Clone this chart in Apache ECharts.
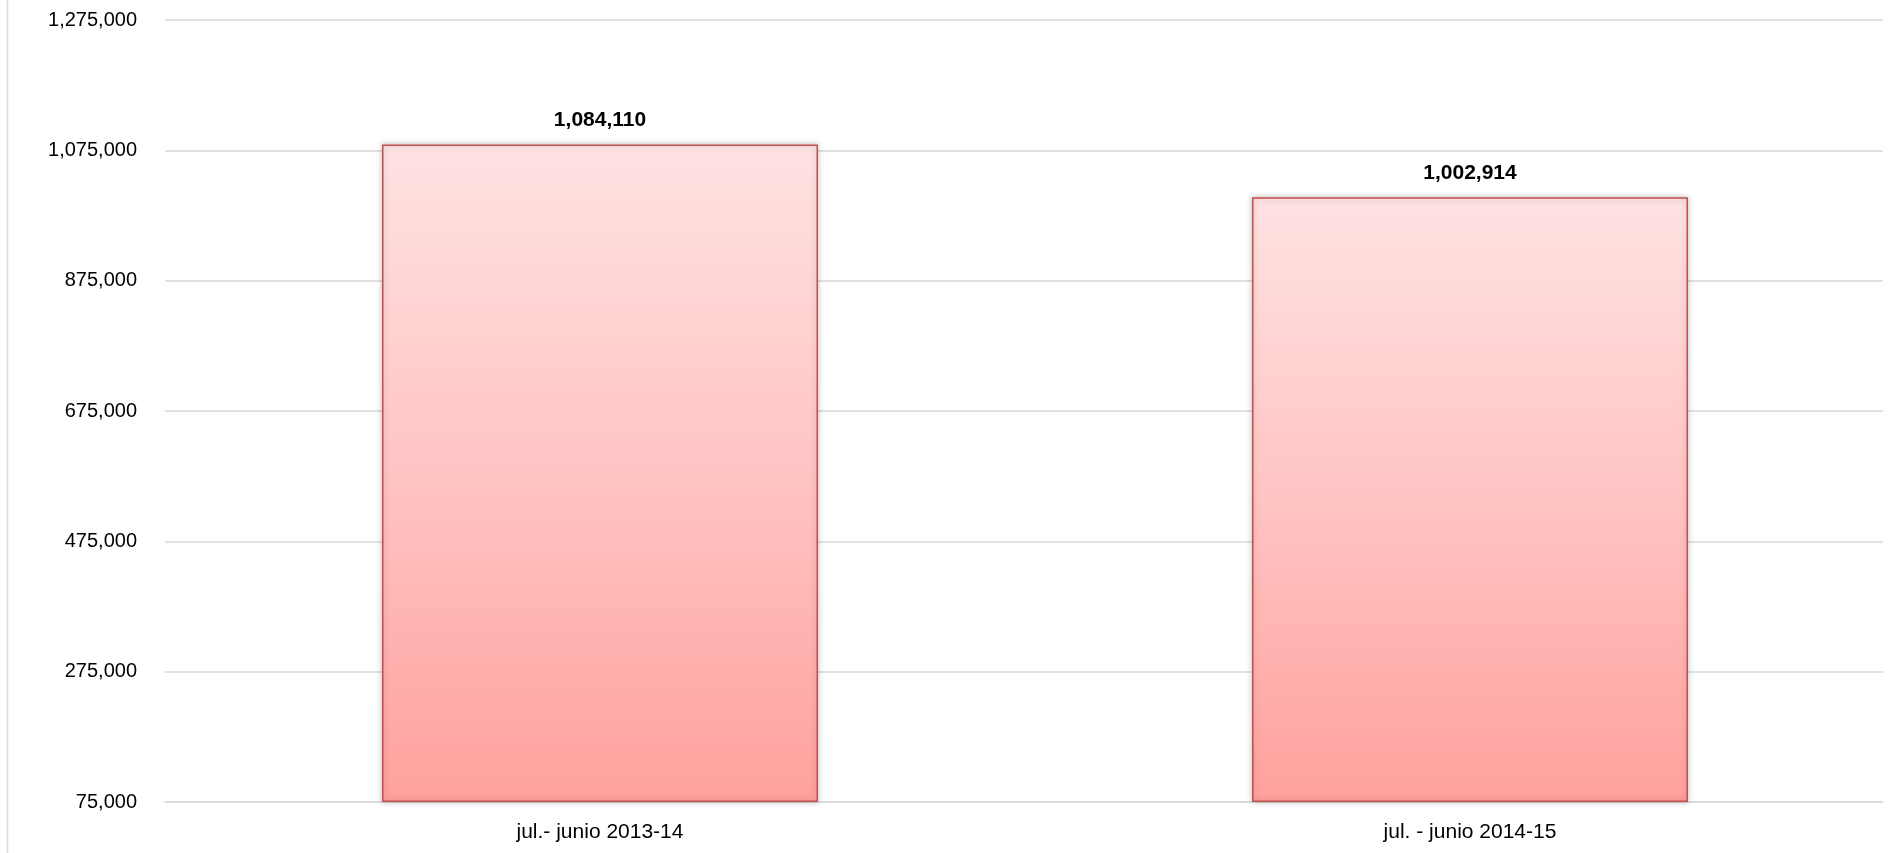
<!DOCTYPE html>
<html>
<head>
<meta charset="utf-8">
<script src="https://cdn.jsdelivr.net/npm/echarts@6/dist/echarts.min.js"></script>
<style>
html,body{margin:0;padding:0;background:#fff;overflow:hidden;width:1888px;height:853px;}
#chart{width:1905px;height:853px;}
</style>
</head>
<body>
<div id="chart"></div>
<script>
// ---- data ----
const categories = ['jul.- junio 2013-14', 'jul. - junio 2014-15'];
const values = [1084110, 1002914];
const axisBase = 75000;      // value at the bottom of the axis
const axisTop = 1275000;     // value at the top of the axis
const axisStep = 200000;     // tick step

const fmt = v => Math.round(v).toLocaleString('en-US');

const chart = echarts.init(document.getElementById('chart'));
chart.setOption({
  backgroundColor: '#ffffff',
  animation: false,
  textStyle: { fontFamily: 'Liberation Sans' },
  grid: { left: 165, right: 0, top: 20, bottom: 51, containLabel: false },
  graphic: [{
    type: 'line',
    shape: { x1: 7.5, y1: 0, x2: 7.5, y2: 853 },
    style: { stroke: '#d9d9d9', lineWidth: 1.5 }
  }, {
    type: 'rect',
    z: 100,
    shape: { x: 1883, y: 0, width: 30, height: 853 },
    style: { fill: '#ffffff' }
  }],
  xAxis: {
    type: 'category',
    data: categories,
    axisLine: { show: true, lineStyle: { color: '#d9d9d9', width: 1.5 } },
    axisTick: { show: false },
    axisLabel: { color: '#000', fontSize: 21, margin: 20, fontFamily: 'Liberation Sans' }
  },
  yAxis: {
    type: 'value',
    min: 0,
    max: axisTop - axisBase,
    interval: axisStep,
    axisLine: { show: false },
    axisTick: { show: false },
    splitLine: { lineStyle: { color: '#d9d9d9', width: 1.5 } },
    axisLabel: {
      color: '#000', fontSize: 20, margin: 28, fontFamily: 'Liberation Sans',
      formatter: v => fmt(v + axisBase)
    }
  },
  series: [{
    type: 'bar',
    data: values.map(v => v - axisBase),
    barWidth: 436,
    itemStyle: {
      color: new echarts.graphic.LinearGradient(0, 0, 0, 1, [
        { offset: 0, color: '#ffe2e2' },
        { offset: 0.5, color: '#ffc4c3' },
        { offset: 1, color: '#ffa19d' }
      ]),
      borderColor: '#c0504d',
      borderWidth: 1.5,
      shadowBlur: 6,
      shadowColor: 'rgba(0,0,0,0.25)'
    },
    label: {
      show: true,
      position: 'top',
      distance: 14,
      color: '#000',
      fontWeight: 'bold',
      fontSize: 21,
      fontFamily: 'Liberation Sans',
      formatter: p => fmt(values[p.dataIndex])
    }
  }]
});
</script>
</body>
</html>
